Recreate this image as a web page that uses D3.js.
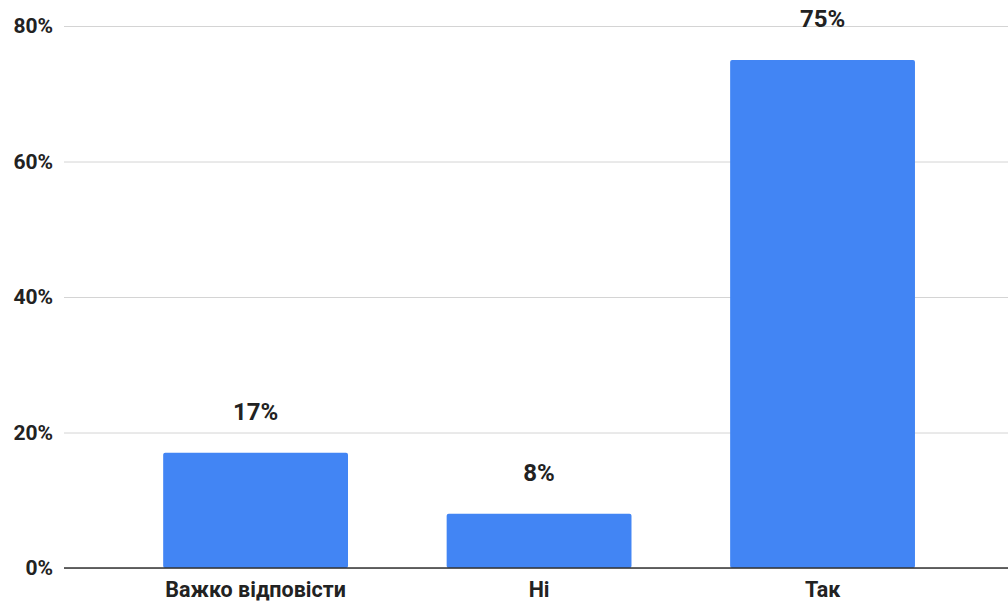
<!DOCTYPE html>
<html><head><meta charset="utf-8">
<script src="https://cdn.jsdelivr.net/npm/d3@7"></script>
<style>body{margin:0;background:#fff}svg{display:block}</style>
</head><body>
<svg id="c" width="1008" height="606"></svg>
<script>
const categories = ["Важко відповісти", "Ні", "Так"];
const values = [17, 8, 75];
const yTicks = [0, 20, 40, 60, 80];

const W = 1008, H = 606;
const m = {left: 64, right: 0, top: 26, bottom: 38};
const svg = d3.select("#c");
const x = d3.scaleBand().domain(categories).range([m.left, W - m.right])
  .paddingInner(0.348).paddingOuter(0.339).align(0.516);
const y = d3.scaleLinear().domain([0, 80]).range([H - m.bottom, m.top]);
const font = "Roboto, 'Noto Sans', sans-serif";

// grid
const gy = svg.append("g").attr("transform", `translate(${m.left},0)`)
  .call(d3.axisLeft(y).tickValues(yTicks).tickSize(-(W - m.left - m.right)).tickPadding(11).tickFormat(d => d + "%"));
gy.select(".domain").remove();
gy.selectAll(".tick line").attr("stroke", "#d4d4d4").attr("stroke-width", 1);
gy.selectAll(".tick text").attr("font-family", font).attr("font-weight", "bold")
  .attr("font-size", 21).attr("fill", "#222");

// bars
svg.append("g").selectAll("rect").data(values).join("rect")
  .attr("x", (d, i) => x(categories[i]))
  .attr("y", d => y(d))
  .attr("width", x.bandwidth())
  .attr("height", d => y(0) - y(d))
  .attr("rx", 2)
  .attr("fill", "#4285f4");

// baseline
svg.append("line").attr("x1", m.left).attr("x2", W - m.right)
  .attr("y1", y(0)).attr("y2", y(0)).attr("stroke", "#333").attr("stroke-width", 1.5);

// data labels
svg.append("g").selectAll("text").data(values).join("text")
  .attr("x", (d, i) => x(categories[i]) + x.bandwidth() / 2)
  .attr("y", d => y(d) - 33)
  .attr("text-anchor", "middle")
  .attr("font-family", font).attr("font-weight", "bold").attr("font-size", 24)
  .attr("fill", "#222")
  .text(d => d + "%");

// x axis labels
const gx = svg.append("g").attr("transform", `translate(0,${y(0)})`)
  .call(d3.axisBottom(x).tickSize(0).tickPadding(14));
gx.select(".domain").remove();
gx.selectAll(".tick text").attr("font-family", font).attr("font-weight", "bold")
  .attr("font-size", 21.5).attr("fill", "#222");
</script>
</body></html>
